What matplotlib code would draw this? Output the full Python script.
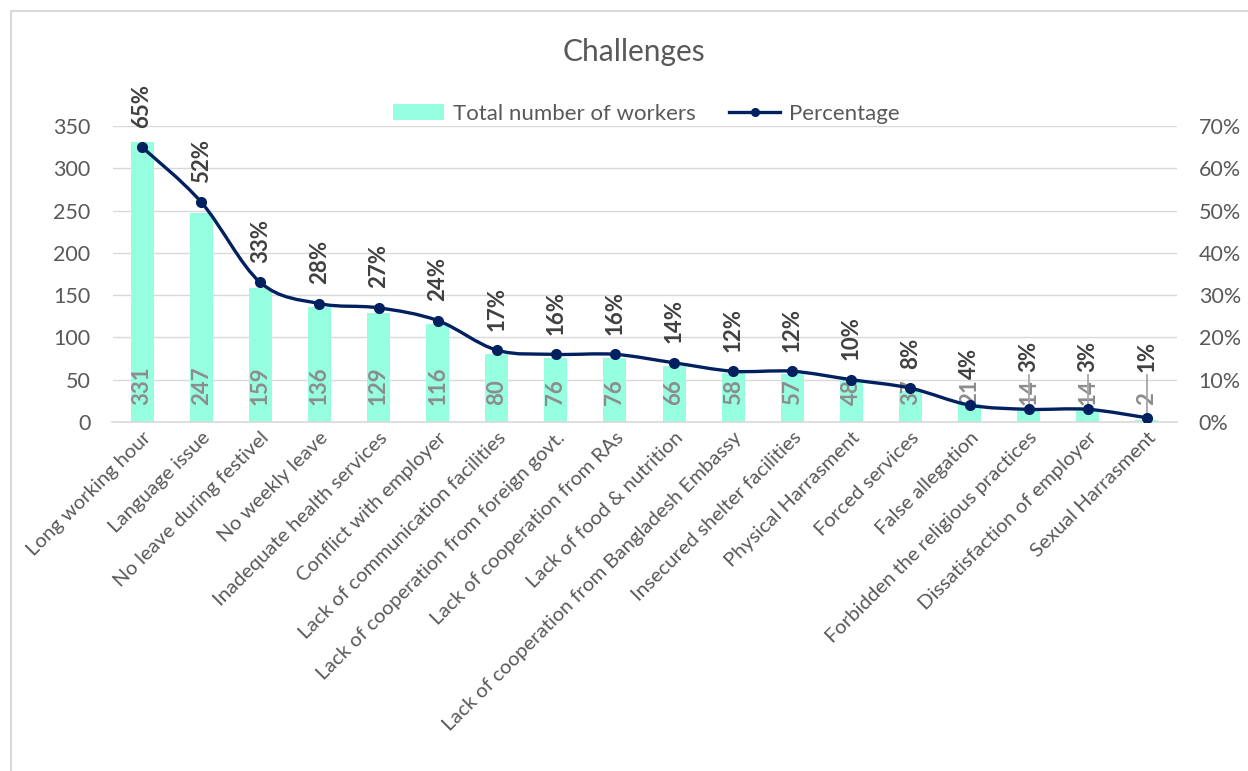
import matplotlib
matplotlib.use("Agg")
import matplotlib.pyplot as plt
from matplotlib.path import Path
from matplotlib.patches import PathPatch, Patch
from matplotlib.lines import Line2D
from matplotlib.ticker import FuncFormatter, MultipleLocator
import numpy as np

plt.rcParams['font.family'] = ['Lato', 'DejaVu Sans']

categories = [
    "Long working hour", "Language issue", "No leave during festivel",
    "No weekly leave", "Inadequate health services", "Conflict with employer",
    "Lack of communication facilities", "Lack of cooperation from foreign govt.",
    "Lack of cooperation from RAs", "Lack of food & nutrition",
    "Lack of cooperation from Bangladesh Embassy", "Insecured shelter facilities",
    "Physical Harrasment", "Forced services", "False allegation",
    "Forbidden the religious practices", "Dissatisfaction of employer",
    "Sexual Harrasment",
]
workers = [331, 247, 159, 136, 129, 116, 80, 76, 76, 66, 58, 57, 48, 37, 21, 14, 14, 2]
percentage = [65, 52, 33, 28, 27, 24, 17, 16, 16, 14, 12, 12, 10, 8, 4, 3, 3, 1]
leader_labels = {15, 16, 17}  # labels lifted above the line with a leader line

BAR_COLOR = "#96FFE0"
LINE_COLOR = "#002060"
GRID_COLOR = "#D9D9D9"
TEXT_COLOR = "#595959"

W, H = 1248, 771
fig = plt.figure(figsize=(W / 100, H / 100), dpi=100)

# light frame around the chart area
frame = plt.Line2D([10.5 / W, 10.5 / W, 1.0], [0.0, 1 - 10.5 / H, 1 - 10.5 / H],
                   transform=fig.transFigure, color=GRID_COLOR, lw=1.5)
fig.add_artist(frame)

left, right = 112.5 / W, 1176.5 / W
bottom, top = 1 - 422 / H, 1 - 126 / H
ax = fig.add_axes([left, bottom, right - left, top - bottom])
ax2 = ax.twinx()

x = np.arange(len(categories))
ax.bar(x, workers, width=0.39, color=BAR_COLOR, zorder=2)
ax.set_xlim(-0.5, len(categories) - 0.5)
ax.set_ylim(0, 350)
ax.yaxis.set_major_locator(MultipleLocator(50))
ax.grid(axis='y', color=GRID_COLOR, lw=1, zorder=0)
ax.set_axisbelow(True)
for s in ['top', 'left', 'right']:
    ax.spines[s].set_visible(False)
ax.spines['bottom'].set_color(GRID_COLOR)
ax.spines['bottom'].set_linewidth(1.2)
ax.tick_params(axis='y', length=0, labelsize=15.5, colors=TEXT_COLOR, pad=16)
ax.set_xticks(x)
ax.set_xticklabels(categories, rotation=45, ha='right', rotation_mode='anchor',
                   fontsize=14.6, color=TEXT_COLOR)
ax.tick_params(axis='x', length=0, pad=5)

# count labels at bar base
count_labels = []
for xi, v in zip(x, workers):
    t = ax.annotate(str(v), (xi, 0), xytext=(0, 12), textcoords='offset points',
                    rotation=90, ha='center', va='bottom', fontsize=16,
                    fontweight='bold', color="#8C8C8C", zorder=3)
    count_labels.append(t)

# secondary axis with smoothed percentage line
p = np.array(percentage) / 100.0
ax2.set_ylim(0, 0.7)
ax2.yaxis.set_major_locator(MultipleLocator(0.1))
ax2.yaxis.set_major_formatter(FuncFormatter(lambda v, _: f"{v * 100:.0f}%"))
ax2.tick_params(axis='y', length=0, labelsize=15.5, colors=TEXT_COLOR, pad=16)
for s in ['top', 'left', 'right', 'bottom']:
    ax2.spines[s].set_visible(False)

pts = np.column_stack([x, p])
n = len(pts)
verts = [pts[0]]
codes = [Path.MOVETO]
for i in range(n - 1):
    p0 = pts[i - 1] if i > 0 else pts[i]
    p1 = pts[i]
    p2 = pts[i + 1]
    p3 = pts[i + 2] if i + 2 < n else pts[i + 1]
    c1 = p1 + (p2 - p0) / 6.0
    c2 = p2 - (p3 - p1) / 6.0
    verts += [c1, c2, p2]
    codes += [Path.CURVE4] * 3
ax2.add_patch(PathPatch(Path(verts, codes), facecolor='none', edgecolor=LINE_COLOR,
                        lw=2.4, zorder=4))
ax2.plot(x, p, 'o', color=LINE_COLOR, ms=7, zorder=5)

LIFTED_Y = 0.118
pct_labels = {}
for i, (xi, v) in enumerate(zip(x, p)):
    label = f"{percentage[i]}%"
    if i in leader_labels:
        ax2.plot([xi, xi], [v, LIFTED_Y - 0.006], color="#A6A6A6", lw=1.3, zorder=3)
        ax2.text(xi, LIFTED_Y, label, rotation=90, ha='center', va='bottom',
                 fontsize=16, fontweight='bold', color="#404040", zorder=6)
    else:
        pct_labels[i] = ax2.annotate(label, (xi, v), xytext=(0, 14),
                                     textcoords='offset points', rotation=90,
                                     ha='center', va='bottom', fontsize=16,
                                     fontweight='bold', color="#404040", zorder=6)

# nudge percentage labels that would sit on top of a count label
fig.canvas.draw()
renderer = fig.canvas.get_renderer()
for i, t in pct_labels.items():
    lb = t.get_window_extent(renderer)
    cb = count_labels[i].get_window_extent(renderer)
    overlap = cb.y1 - lb.y0
    if overlap > 0:
        t.xyann = (0, 14 + overlap * 72.0 / fig.dpi + 0.5)

fig.text(0.508, 1 - 52 / H, "Challenges", ha='center', va='center', fontsize=21.5,
         color=TEXT_COLOR)

handles = [Patch(facecolor=BAR_COLOR, edgecolor='none'),
           Line2D([0], [0], color=LINE_COLOR, lw=2.4, marker='o', ms=5.5)]
fig.legend(handles, ["Total number of workers", "Percentage"], loc='center',
           bbox_to_anchor=(0.518, 1 - 114 / H), ncol=2, frameon=False,
           fontsize=16, labelcolor=TEXT_COLOR, handlelength=2.3,
           handleheight=0.7, handletextpad=0.4, columnspacing=1.5)

fig.savefig("out.png", dpi=100, facecolor='white')
